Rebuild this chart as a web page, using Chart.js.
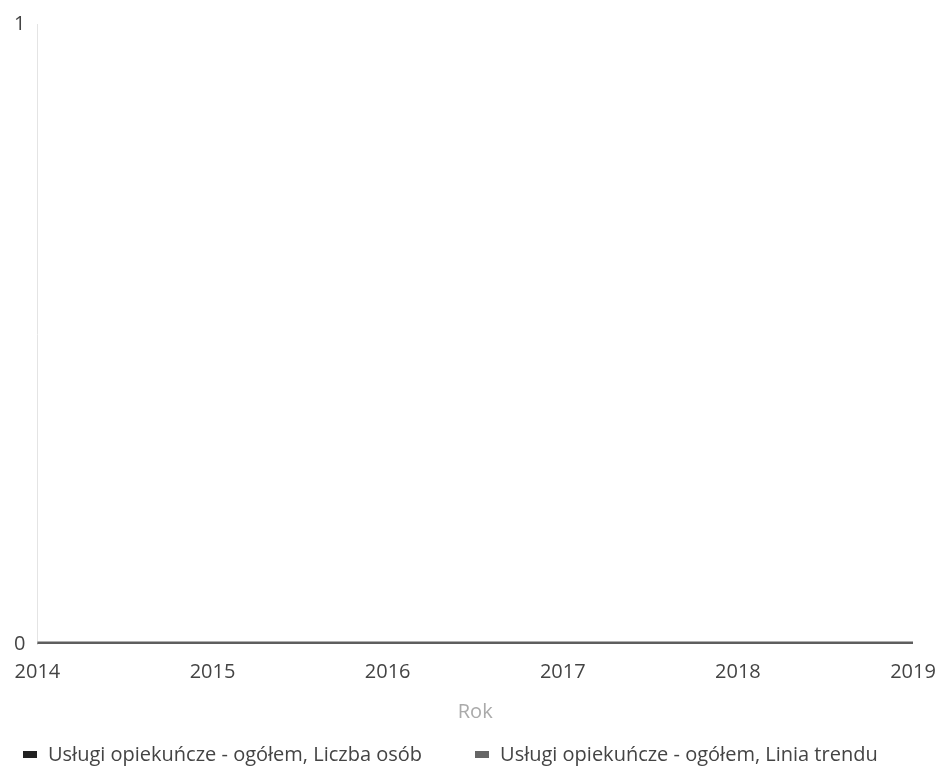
<!DOCTYPE html>
<html>
<head>
<meta charset="utf-8">
<script src="https://cdn.jsdelivr.net/npm/chart.js@4/dist/chart.umd.min.js"></script>
<style>
  html, body { margin: 0; padding: 0; background: #fff; }
  #wrap { position: relative; width: 939px; height: 769px; }
  #legend {
    position: absolute; left: 0; top: 741px;
    display: flex; gap: 53px; padding-left: 23px;
    font-family: "Open Sans", sans-serif; font-size: 20px; line-height: 26px; color: #444;
  }
  #legend .item { display: flex; align-items: center; white-space: nowrap; }
  #legend .box { width: 14px; height: 7px; margin-right: 11px; }
</style>
</head>
<body>
<div id="wrap">
  <canvas id="chart" width="939" height="769"></canvas>
  <div id="legend"></div>
</div>
<script>
const years = ["2014", "2015", "2016", "2017", "2018", "2019"];
const liczbaOsob = [0, 0, 0, 0, 0, 0];
const liniaTrendu = [0, 0, 0, 0, 0, 0];
const yTicks = [0, 1];
const seriesNames = ["Usługi opiekuńcze - ogółem, Liczba osób", "Usługi opiekuńcze - ogółem, Linia trendu"];

const font = { family: "Open Sans", size: 20 };

const ctx = document.getElementById("chart").getContext("2d");
const chart = new Chart(ctx, {
  type: "line",
  data: {
    labels: years,
    datasets: [
      {
        label: seriesNames[0],
        data: liczbaOsob,
        borderColor: "#5e5e5e",
        backgroundColor: "#222",
        borderWidth: 5,
        pointRadius: 0
      },
      {
        label: seriesNames[1],
        data: liniaTrendu,
        borderColor: "#999",
        backgroundColor: "#666",
        borderWidth: 2,
        pointRadius: 0
      }
    ]
  },
  options: {
    responsive: false,
    animation: false,
    layout: { padding: { left: 2, right: 26, top: 22, bottom: 41 } },
    plugins: {
      legend: { display: false },
      tooltip: { enabled: false }
    },
    scales: {
      x: {
        offset: false,
        grid: { display: false, drawTicks: false },
        border: { display: false },
        ticks: { color: "#444", font: font, maxRotation: 0, padding: 16 },
        title: { display: true, text: "Rok", color: "#aaa", font: font, padding: { top: 0, bottom: 4 } },
        // skrajne etykiety mogą wystawać poza obszar wykresu
        afterFit: s => { s.paddingLeft = 0; s.paddingRight = 0; }
      },
      y: {
        min: yTicks[0],
        max: yTicks[yTicks.length - 1],
        grid: { display: false, drawTicks: false },
        border: { display: true, color: "#e4e4e4", width: 1 },
        afterBuildTicks: axis => { axis.ticks = yTicks.map(v => ({ value: v })); },
        ticks: { color: "#444", font: font, padding: 12 }
      }
    }
  }
});

// legenda pod wykresem
const legendEl = document.getElementById("legend");
chart.data.datasets.forEach(ds => {
  const item = document.createElement("div");
  item.className = "item";
  const box = document.createElement("span");
  box.className = "box";
  box.style.background = ds.backgroundColor;
  item.appendChild(box);
  item.appendChild(document.createTextNode(ds.label));
  legendEl.appendChild(item);
});
</script>
</body>
</html>
